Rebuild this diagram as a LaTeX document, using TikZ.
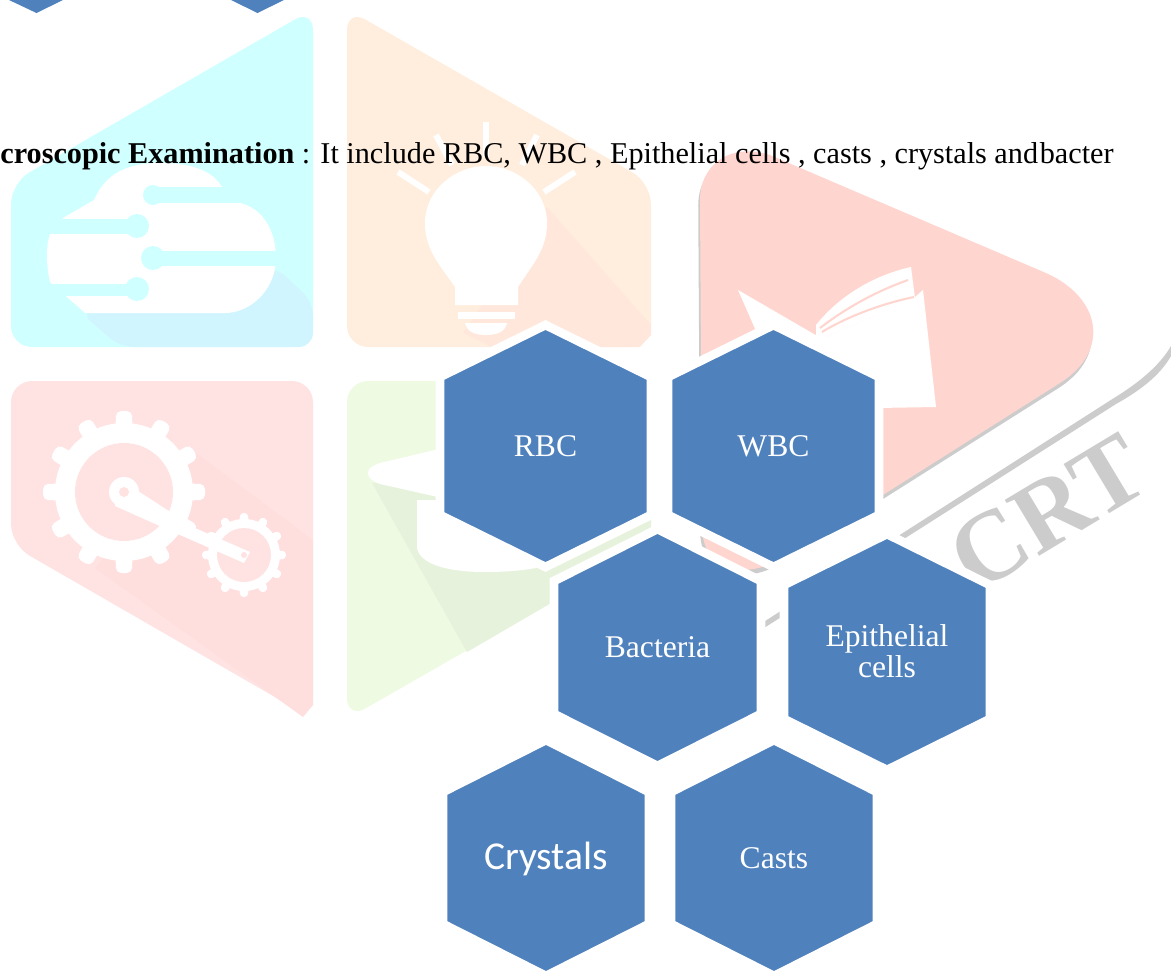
\documentclass[tikz,border=0pt]{standalone}
\usepackage{fontspec}
\setmainfont{Liberation Serif}
\newfontfamily\calibrifont{Carlito}
\definecolor{hexblue}{HTML}{4F81BD}
\definecolor{tilecyan}{HTML}{CFFFFF}
\definecolor{shadecyan}{HTML}{D0F5FF}
\definecolor{tileorange}{HTML}{FFEEDD}
\definecolor{shadeorange}{HTML}{FFE7DC}
\definecolor{tilepink}{HTML}{FFE3E3}
\definecolor{shadepink}{HTML}{FFDEDE}
\definecolor{tilegreen}{HTML}{EEFAE2}
\definecolor{shadegreen}{HTML}{E6F2DC}
\definecolor{playred}{HTML}{FFD6CF}
\definecolor{markgrey}{HTML}{CCCCCC}
\tikzset{
  hexcell/.style={fill=hexblue,draw=white,line width=5pt,line join=miter},
  hexlabel/.style={text=white,align=center,font=\fontsize{18pt}{18pt}\selectfont},
  ray/.style={white,line width=3.4pt},
}
\begin{document}
\begin{tikzpicture}[x=0.02cm,y=-0.02cm]
\useasboundingbox (0,0) rectangle (1171,974);
\clip (0,0) rectangle (1171,974);
% tiles of the faint logo
\fill[tilecyan,rounded corners=12] (313,9) -- (313,347) -- (11,347) -- (11,183) -- cycle;
\fill[tileorange,rounded corners=12] (347,9) -- (651,183) -- (651,347) -- (347,347) -- cycle;
\fill[tilepink,rounded corners=12] (11,381) -- (313,381) -- (313,719) -- (11,545) -- cycle;
\fill[tilegreen,rounded corners=12] (347,381) -- (651,381) -- (651,545) -- (347,719) -- cycle;

% cloud
\fill[shadecyan,rounded corners=8] (80,312) -- (120,347) -- (313,347) -- (313,302) -- (276,267) -- cycle;
\fill[white] (63,218) -- (94,200) .. controls (105,175) and (125,163) .. (160,163) .. controls (190,163) and (212,170) .. (222,187) -- (240,203) .. controls (262,208) and (276,230) .. (276,258) .. controls (276,290) and (250,313) .. (225,313) -- (85,313) -- (50,282) .. controls (46,265) and (46,245) .. (50,234) -- cycle;
\fill[tilecyan] (153,187) rectangle (300,203);
\fill[tilecyan] (153,195) circle (10);
\fill[tilecyan] (30,219) rectangle (137,234);
\fill[tilecyan] (137,226) circle (12);
\fill[tilecyan] (153,251) rectangle (300,266);
\fill[tilecyan] (153,258) circle (12);
\fill[tilecyan] (30,284) rectangle (137,296);
\fill[tilecyan] (137,289) circle (12);
\fill[tilecyan] (30,187) rectangle (62,219);

% bulb
\fill[shadeorange] (547,207) -- (651,325) -- (651,335) -- (640,347) -- (492,347) -- (463,333) -- cycle;
\fill[white] (455,305) -- (455,287) .. controls (440,265) and (425,250) .. (425,223) .. controls (425,190) and (455,166) .. (486,166) .. controls (517,166) and (547,190) .. (547,223) .. controls (547,250) and (532,265) .. (518,287) -- (518,305) -- cycle;
\fill[white] (458,312) rectangle (515,319);
\fill[white] (465,323) -- (507,323) .. controls (505,332) and (497,335) .. (486,335) .. controls (475,335) and (467,332) .. (465,323) -- cycle;
\draw[ray] (486,122) -- (486,157);
\draw[ray] (436,135) -- (452,165);
\draw[ray] (537,135) -- (522,165);
\draw[ray] (398,172) -- (429,192);
\draw[ray] (575,172) -- (544,192);

% gears
\fill[shadepink] (196,453) -- (313,540) -- (313,705) -- (303,717) -- (95,568) -- cycle;
\foreach \a in {0,30,...,330}
  \fill[white,rotate around={\a:(124,492)},rounded corners=3] (114,492) -- (116,411) -- (132,411) -- (134,492) -- cycle;
\fill[white] (124,492) circle (69);
\fill[tilepink] (124,492) circle (49);
\foreach \a in {0,30,...,330}
  \fill[white,rotate around={\a:(244,555)},rounded corners=2] (238,555) -- (240,513) -- (248,513) -- (250,555) -- cycle;
\fill[white] (244,555) circle (36);
\fill[tilepink] (244,555) circle (27);
\fill[white] (118,478) -- (195,528) -- (250,552) -- (244,563) -- (180,535) -- (115,506) -- cycle;
\fill[white] (124,492) circle (15);
\fill[tilepink] (124,492) circle (5);
\fill[tilepink] (244,555) circle (3);

% cap
\fill[shadegreen] (372,483) -- (467,652) -- (651,545) -- (651,500) -- (500,480) -- cycle;
\fill[white] (368,473) .. controls (368,468) and (372,466) .. (380,463) -- (540,425) -- (640,450) -- (640,500) -- (540,520) -- (380,484) .. controls (372,481) and (368,478) .. (368,473) -- cycle;
\fill[white] (417,500) -- (417,548) .. controls (420,565) and (450,572) .. (484,572) .. controls (510,572) and (530,570) .. (550,565) -- (600,530) -- (600,500) -- cycle;

% play mark and its shadow
\fill[markgrey,xshift=-1,yshift=-3] (700,200) .. controls (700,165) and (730,142) .. (770,155) -- (1046,273) .. controls (1100,297) and (1112,350) .. (1060,383) -- (780,560) .. controls (740,580) and (705,570) .. (702,530) -- cycle;
\fill[playred] (700,200) .. controls (700,165) and (730,142) .. (770,155) -- (1046,273) .. controls (1100,297) and (1112,350) .. (1060,383) -- (780,560) .. controls (740,580) and (705,570) .. (702,530) -- cycle;
\fill[white] (738,290) -- (819,337) -- (826,337) -- (914,298) -- (923,290) -- (936,407) -- (877,408) -- (760,408) -- (760,340) -- cycle;
\fill[white] (816,325) .. controls (840,295) and (875,275) .. (911,267) -- (915,298) -- (826,337) -- (816,337) -- cycle;
\draw[playred,line width=1.2pt] (820,328) .. controls (850,305) and (880,290) .. (908,280);
\draw[playred,line width=1.2pt] (822,332) .. controls (850,315) and (885,303) .. (914,297);

% swoosh and letters
\fill[markgrey] (1171,346) .. controls (1160,365) and (1140,382) .. (1114,398) -- (762,623) -- (764,628) -- (1116,404) .. controls (1145,388) and (1162,372) .. (1171,356) -- cycle;
\node[rotate=31,text=markgrey,font=\fontsize{57pt}{57pt}\selectfont\bfseries] (crtmark) at (1048,513) {CRT};

% line of text
\node[anchor=base west,inner sep=0pt,font=\fontsize{17.2pt}{17.2pt}\selectfont] (bodyline) at (0,163) {\textbf{croscopic Examination} : It include RBC, WBC , Epithelial cells , casts , crystals and\hspace{1pt}bacter};

% hexagons
\fill[hexcell] (545.5,325) -- (651,377) -- (651,515) -- (545.5,567) -- (440,515) -- (440,377) -- cycle;
\fill[hexcell] (773.5,325) -- (879,377) -- (879,515) -- (773.5,567) -- (668,515) -- (668,377) -- cycle;
\fill[hexcell] (657.5,529) -- (761,581) -- (761,714) -- (657.5,766) -- (554,714) -- (554,581) -- cycle;
\fill[hexcell] (887,534) -- (990,585) -- (990,719) -- (887,770) -- (784,719) -- (784,585) -- cycle;
\fill[hexcell] (546,740) -- (649,792) -- (649,924) -- (546,976) -- (443,924) -- (443,792) -- cycle;
\fill[hexcell] (774,740) -- (877,792) -- (877,924) -- (774,976) -- (671,924) -- (671,792) -- cycle;
\fill[hexblue] (36.5,13) -- (9,0) -- (63,0) -- cycle;
\fill[hexblue] (257.5,13) -- (231,0) -- (284,0) -- cycle;

\node[hexlabel] (rbc) at (545.5,446) {RBC};
\node[hexlabel] (wbc) at (773.5,446) {WBC};
\node[hexlabel] (bacteria) at (657.5,647) {Bacteria};
\node[hexlabel,font=\fontsize{18pt}{18pt}\selectfont] (epithelial) at (887,651) {Epithelial\\cells};
\node[hexlabel,font=\fontsize{22.5pt}{22.5pt}\selectfont\calibrifont] (crystals) at (546,859) {Crystals};
\node[hexlabel] (casts) at (774,858) {Casts};
\end{tikzpicture}
\end{document}
